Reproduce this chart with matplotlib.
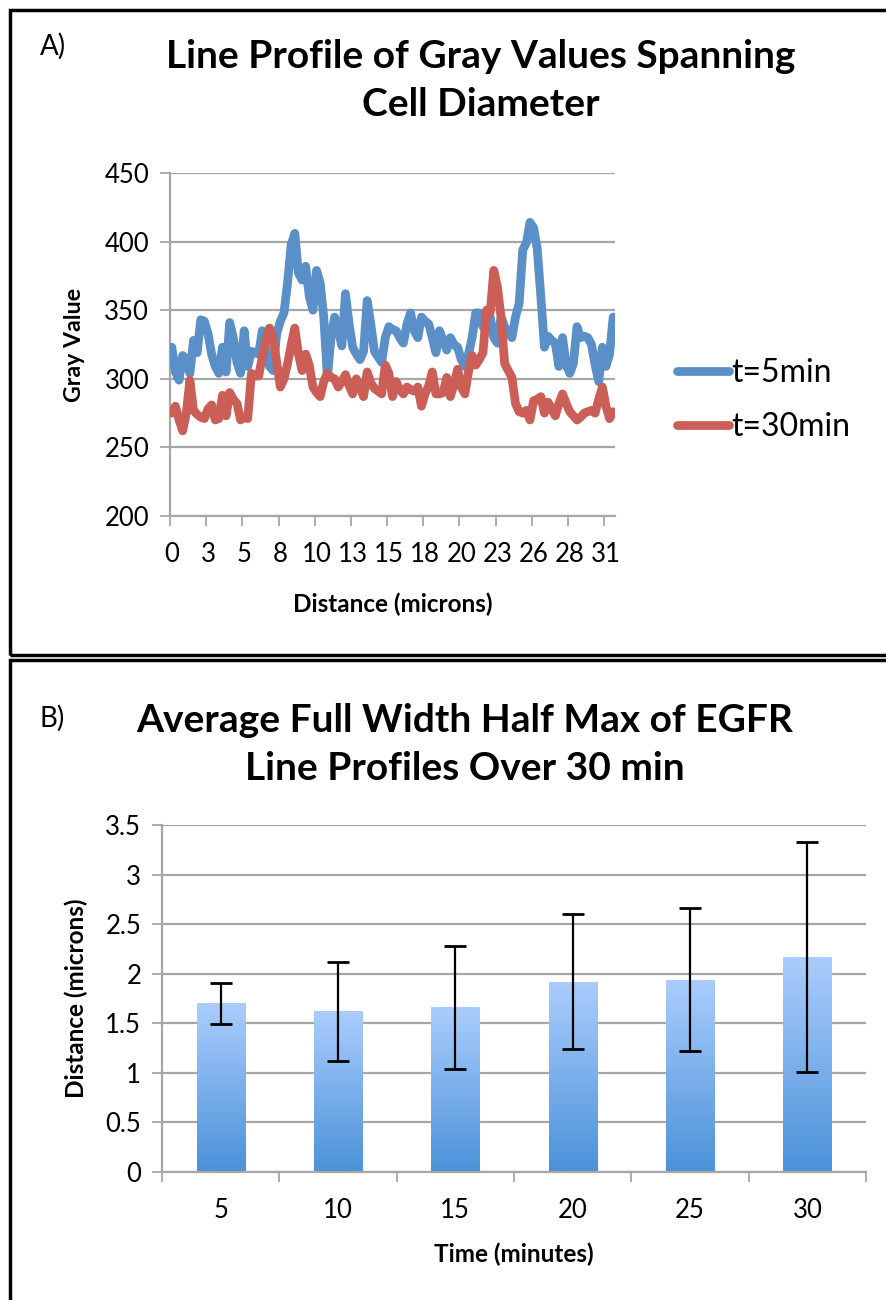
import numpy as np
import matplotlib
matplotlib.use("Agg")
import matplotlib.pyplot as plt
from matplotlib.patches import Rectangle
from matplotlib.colors import LinearSegmentedColormap

plt.rcParams['font.family'] = ['Lato', 'DejaVu Sans']

# ---- panel A data: gray value line profiles (123 samples across the cell)
blue_5min = [323, 305, 299, 317, 314, 304, 328, 319, 343, 342,
             333, 318, 309, 304, 323, 305, 341, 330, 312, 304,
             335, 309, 320, 319, 318, 335, 322, 309, 306, 333,
             342, 348, 370, 398, 406, 377, 372, 382, 360, 350,
             379, 370, 345, 301, 330, 345, 335, 324, 362, 340,
             323, 318, 314, 320, 357, 340, 320, 316, 312, 330,
             338, 336, 335, 330, 326, 340, 348, 335, 330, 345,
             342, 340, 330, 319, 335, 328, 321, 330, 325, 323,
             314, 309, 318, 330, 348, 348, 338, 340, 345, 330,
             326, 345, 338, 333, 330, 345, 355, 394, 399, 414,
             410, 395, 360, 323, 331, 328, 326, 309, 330, 310,
             304, 311, 338, 330, 331, 330, 325, 310, 298, 323,
             309, 318, 345]
red_30min = [275, 280, 270, 262, 275, 299, 277, 274, 272, 271,
             278, 281, 270, 271, 288, 273, 290, 285, 282, 270,
             272, 271, 304, 302, 302, 316, 328, 337, 330, 312,
             294, 300, 311, 325, 337, 318, 306, 318, 310, 294,
             290, 287, 298, 304, 301, 300, 294, 298, 303, 295,
             289, 300, 294, 287, 305, 297, 293, 291, 289, 310,
             304, 287, 298, 292, 289, 294, 292, 291, 294, 280,
             289, 295, 305, 289, 289, 290, 301, 287, 296, 307,
             294, 289, 305, 317, 310, 314, 319, 350, 348, 379,
             367, 345, 311, 306, 301, 282, 276, 275, 277, 270,
             284, 285, 287, 275, 283, 278, 273, 282, 289, 282,
             276, 273, 270, 272, 275, 276, 277, 275, 285, 294,
             280, 271, 276]
dist_labels = ['0', '3', '5', '8', '10', '13', '15', '18', '20', '23', '26', '28', '31']

# ---- panel B data: average FWHM with error bars
times = ['5', '10', '15', '20', '25', '30']
fwhm_mean = [1.70, 1.62, 1.66, 1.92, 1.94, 2.17]
fwhm_err = [0.21, 0.50, 0.62, 0.68, 0.72, 1.16]

W, H = 886, 1300
fig = plt.figure(figsize=(W / 100, H / 100), dpi=100)
grid_c = '#a6a6a6'
TICK_FS = 18.5
LAB_FS = 17.5
TITLE_FS = 28


def px_axes(left, top, right, bottom):
    return fig.add_axes([left / W, 1 - bottom / H, (right - left) / W, (bottom - top) / H])


def style_axes(a):
    a.yaxis.grid(True, color=grid_c, lw=1.6)
    a.set_axisbelow(True)
    a.tick_params(axis='x', which='major', direction='out', length=7, width=1.3, color=grid_c)
    a.tick_params(axis='x', which='minor', length=0, pad=19, labelsize=TICK_FS)
    a.tick_params(axis='y', direction='out', length=7, width=1.3, color=grid_c,
                  labelsize=TICK_FS, pad=8)
    for s in ['top', 'right']:
        a.spines[s].set_visible(False)
    for s in ['left', 'bottom']:
        a.spines[s].set_color(grid_c)
        a.spines[s].set_linewidth(1.6)


# panel borders
fig.add_artist(Rectangle((10 / W, 1 - 655 / H), 900 / W, 645 / H, transform=fig.transFigure,
                         fill=False, lw=2.5, ec='black'))
fig.add_artist(Rectangle((10 / W, 1 - 1320 / H), 900 / W, 660 / H, transform=fig.transFigure,
                         fill=False, lw=2.5, ec='black'))

# ---------------- panel A ----------------
ax = px_axes(170, 173, 615, 516)
n = len(blue_5min)
idx = np.arange(n)
ax.plot(idx, blue_5min, color='#5a8fc7', lw=6.3, solid_joinstyle='round', solid_capstyle='round',
        label='t=5min', zorder=3)
ax.plot(idx, red_30min, color='#cb5f57', lw=6.3, solid_joinstyle='round', solid_capstyle='round',
        label='t=30min', zorder=3)
ax.set_xlim(-0.5, n - 0.5)
ax.set_ylim(200, 450)
ax.set_yticks(range(200, 451, 50))
ax.set_xticks(np.arange(-0.5, n, 10))
ax.set_xticklabels([])
ax.set_xticks(np.arange(0, n, 10), minor=True)
ax.set_xticklabels(dist_labels, minor=True)
style_axes(ax)
ax.set_ylabel('Gray Value', fontsize=LAB_FS * 0.95, fontweight='bold', labelpad=14)
ax.set_xlabel('Distance (microns)', fontsize=LAB_FS, fontweight='bold', labelpad=18)
ax.legend(loc='center left', bbox_to_anchor=(648 / W, 1 - 400 / H), bbox_transform=fig.transFigure,
          frameon=False, fontsize=23, handlelength=1.65, handletextpad=0.05, labelspacing=0.75)

fig.text(40 / W, 1 - 46 / H, 'A)', fontsize=20, ha='left', va='center')
fig.text(481 / W, 1 - 57 / H, 'Line Profile of Gray Values Spanning', fontsize=TITLE_FS,
         fontweight='bold', ha='center', va='center')
fig.text(481 / W, 1 - 105 / H, 'Cell Diameter', fontsize=TITLE_FS,
         fontweight='bold', ha='center', va='center')

# ---------------- panel B ----------------
bx = px_axes(162, 825, 866, 1172)
xpos = np.arange(1, len(times) + 1)
bars = bx.bar(xpos, fwhm_mean, width=0.41, color='none', zorder=2)
cmap = LinearSegmentedColormap.from_list('egfr', ['#4b92d9', '#abcdfd'])
grad = np.linspace(0, 1, 256).reshape(-1, 1)
for b in bars:
    im = bx.imshow(grad, cmap=cmap, origin='lower', aspect='auto', zorder=2,
                   extent=[b.get_x(), b.get_x() + b.get_width(), 0, b.get_height()])
    im.set_clip_path(b)
bx.errorbar(xpos, fwhm_mean, yerr=fwhm_err, fmt='none', ecolor='black', elinewidth=1.6,
            capsize=8, capthick=2.0, zorder=4)
bx.set_xlim(0.5, len(times) + 0.5)
bx.set_ylim(0, 3.5)
bx.set_yticks(np.arange(0, 3.51, 0.5))
bx.set_yticklabels(['0', '0.5', '1', '1.5', '2', '2.5', '3', '3.5'])
bx.set_xticks(np.arange(0.5, len(times) + 0.6, 1))
bx.set_xticklabels([])
bx.set_xticks(xpos, minor=True)
bx.set_xticklabels(times, minor=True)
style_axes(bx)
bx.set_ylabel('Distance (microns)', fontsize=LAB_FS, fontweight='bold', labelpad=12)
bx.set_xlabel('Time (minutes)', fontsize=LAB_FS, fontweight='bold', labelpad=14)

fig.text(40 / W, 1 - 718 / H, 'B)', fontsize=20, ha='left', va='center')
fig.text(465 / W, 1 - 721 / H, 'Average Full Width Half Max of EGFR', fontsize=TITLE_FS,
         fontweight='bold', ha='center', va='center')
fig.text(465 / W, 1 - 768 / H, 'Line Profiles Over 30 min', fontsize=TITLE_FS,
         fontweight='bold', ha='center', va='center')

fig.savefig('out.png', dpi=100)
